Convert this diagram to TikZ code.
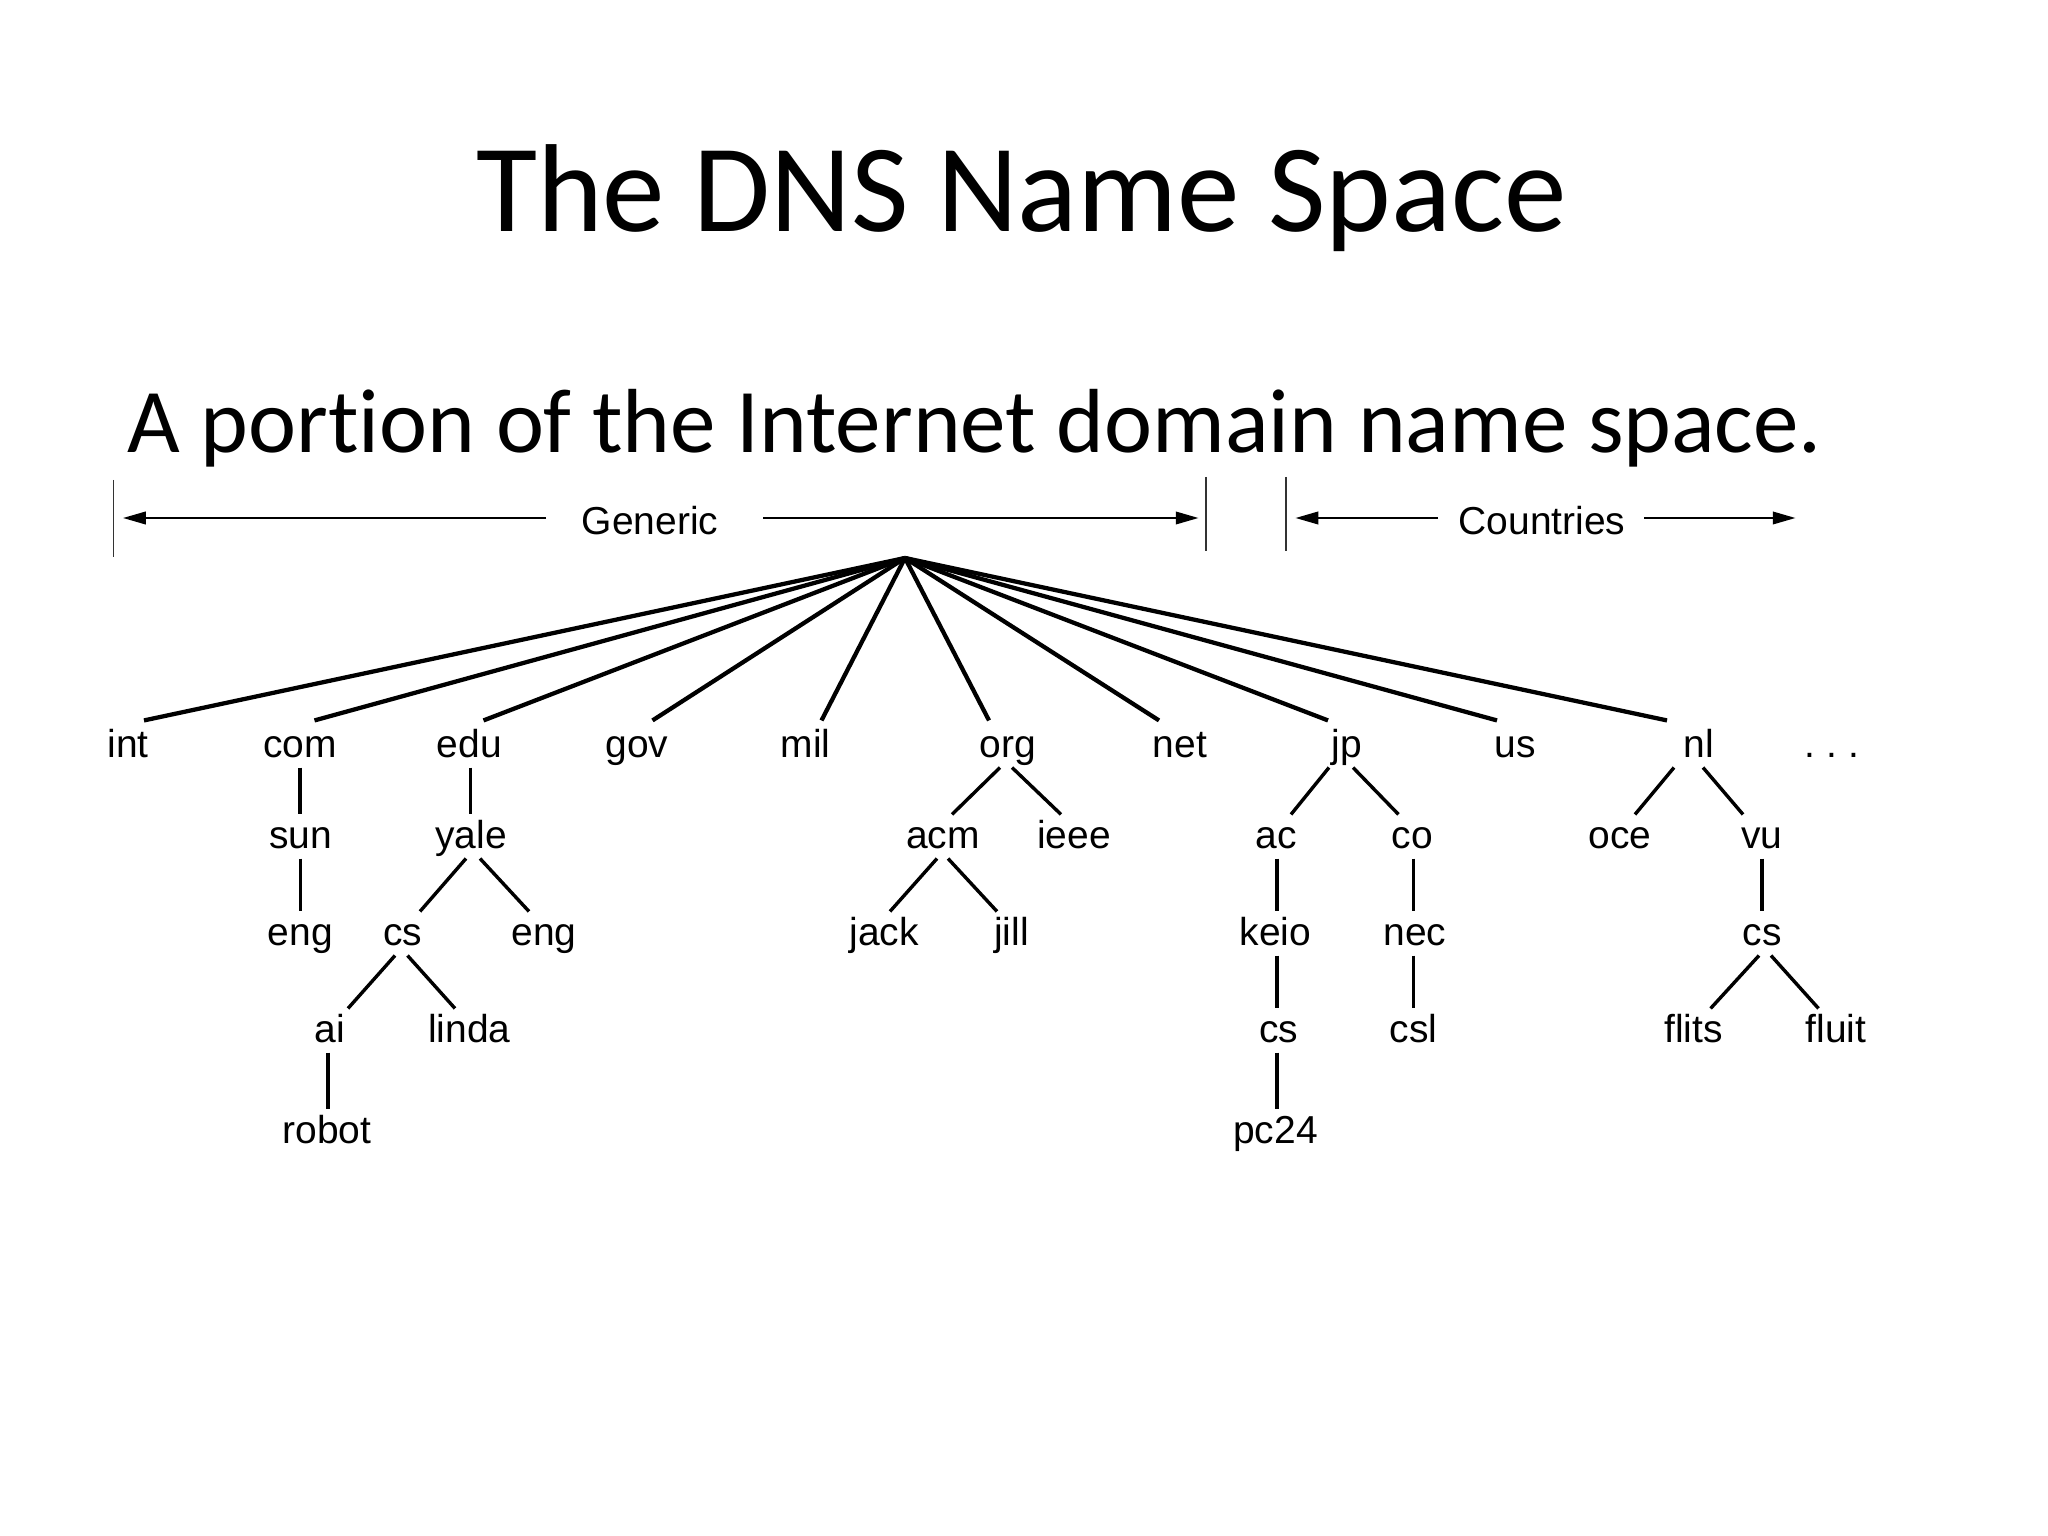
\documentclass[tikz,border=0pt]{standalone}
\usepackage{fontspec}
\setmainfont{Carlito}[Ligatures=NoCommon]
\newfontfamily\lblfamily{Liberation Sans}
\usetikzlibrary{calc,arrows.meta}
\begin{document}
\begin{tikzpicture}[x=0.3515625pt, y=-0.3515625pt,
  lbl/.style={font=\lblfamily\fontsize{13.7pt}{16pt}\selectfont, inner sep=0pt, text height=11.6pt, text depth=3.5pt, anchor=base},
  rootedge/.style={line width=1.5pt},
  edge/.style={line width=1.2pt},
  bar/.style={line width=0.55pt, draw=black!80},
  span/.style={line width=0.75pt, -{Triangle[length=8pt,width=4.4pt]}}]
\path[use as bounding box] (0,0) rectangle (2048,1536);

% titles
\node[anchor=base, inner sep=0pt, font=\fontsize{44pt}{50pt}\selectfont] (title) at (1021.5,232) {The DNS Name Space};
\node[anchor=base west, inner sep=0pt, font=\fontsize{32pt}{38pt}\selectfont] (sub) at (127,453) {A portion of the Internet domain name space.};

% spans
\node[lbl] (generic) at (650,535) {Generic};
\node[lbl] (countries) at (1542,535) {Countries};
\coordinate (gLs) at (546,518);
\coordinate (gLt) at (123,518);
\coordinate (gRs) at (763,518);
\coordinate (gRt) at (1198.5,518);
\coordinate (cLs) at (1438,518);
\coordinate (cLt) at (1295.5,518);
\coordinate (cRs) at (1644,518);
\coordinate (cRt) at (1795.5,518);
\draw[span] (gLs) -- (gLt);
\draw[span] (gRs) -- (gRt);
\draw[span] (cLs) -- (cLt);
\draw[span] (cRs) -- (cRt);
\coordinate (b1t) at (113.6,480);
\coordinate (b1b) at (113.6,557);
\coordinate (b2t) at (1206,477);
\coordinate (b2b) at (1206,551);
\coordinate (b3t) at (1286,477);
\coordinate (b3b) at (1286,551);
\draw[bar] (b1t) -- (b1b);
\draw[bar] (b2t) -- (b2b);
\draw[bar] (b3t) -- (b3b);

% root
\coordinate (root) at (905,558);

% level 1
\node[lbl] (int) at (128,757) {int};
\node[lbl] (com) at (300,757) {com};
\node[lbl] (edu) at (469.5,757) {edu};
\node[lbl] (gov) at (637,757) {gov};
\node[lbl] (mil) at (805.5,757) {mil};
\node[lbl] (org) at (1008,757) {org};
\node[lbl] (net) at (1180,757) {net};
\node[lbl] (jp) at (1347,757) {jp};
\node[lbl] (us) at (1515.5,757) {us};
\node[lbl] (nl) at (1699,757) {nl};
\node[lbl] (dots) at (1832,757) {.\ .\ .};

% level 2
\node[lbl] (sun) at (300.5,848) {sun};
\node[lbl] (yale) at (471,848) {yale};
\node[lbl] (acm) at (943,848) {acm};
\node[lbl] (ieee) at (1074,848) {ieee};
\node[lbl] (ac) at (1276,848) {ac};
\node[lbl] (co) at (1412.5,848) {co};
\node[lbl] (oce) at (1620,848) {oce};
\node[lbl] (vu) at (1762,848) {vu};

% level 3
\node[lbl] (engA) at (300.5,945) {eng};
\node[lbl] (csA) at (402.5,945) {cs};
\node[lbl] (engB) at (544,945) {eng};
\node[lbl] (jack) at (884,945) {jack};
\node[lbl] (jill) at (1011.5,945) {jill};
\node[lbl] (keio) at (1275.5,945) {keio};
\node[lbl] (nec) at (1415,945) {nec};
\node[lbl] (csC) at (1762,945) {cs};

% level 4
\node[lbl] (ai) at (330,1042) {ai};
\node[lbl] (linda) at (469.5,1042) {linda};
\node[lbl] (csB) at (1278.5,1042) {cs};
\node[lbl] (csl) at (1413.6,1042) {csl};
\node[lbl] (flits) at (1693.6,1042) {flits};
\node[lbl] (fluit) at (1836,1042) {fluit};

% level 5
\node[lbl] (robot) at (327,1143) {robot};
\node[lbl] (pc) at (1275.5,1143) {pc24};

% root edges
\draw[rootedge] (root) -- ($(int.north)+(16,-3)$);
\draw[rootedge] (root) -- ($(com.north)+(14.5,-3)$);
\draw[rootedge] (root) -- ($(edu.north)+(14,-3)$);
\draw[rootedge] (root) -- ($(gov.north)+(15.5,-3)$);
\draw[rootedge] (root) -- ($(mil.north)+(16,-3)$);
\draw[rootedge] (root) -- ($(org.north)+(-19,-3)$);
\draw[rootedge] (root) -- ($(net.north)+(-21,-3)$);
\draw[rootedge] (root) -- ($(jp.north)+(-19,-3)$);
\draw[rootedge] (root) -- ($(us.north)+(-18.5,-3)$);
\draw[rootedge] (root) -- ($(nl.north)+(-32,-3)$);

% subtrees
\draw[edge] (com.south) -- (com.south |- sun.north);
\draw[edge] (sun.south) -- (sun.south |- engA.north);
\draw[edge] ($(edu.south)+(1,0)$) -- ($(edu.south |- yale.north)+(1,0)$);
\draw[edge] ($(yale.south)+(-5,0)$) -- ($(csA.north)+(17.5,0)$);
\draw[edge] ($(yale.south)+(9,0)$) -- ($(engB.north)+(-15,0)$);
\draw[edge] ($(csA.south)+(-7.5,0)$) -- ($(ai.north)+(18,0)$);
\draw[edge] ($(csA.south)+(5,0)$) -- ($(linda.north)+(-14.5,0)$);
\draw[edge] ($(ai.south)+(-2,0)$) -- ($(ai.south |- robot.north)+(-2,0)$);

\draw[edge] ($(org.south)+(-8,0)$) -- ($(acm.north)+(9,0)$);
\draw[edge] ($(org.south)+(4,0)$) -- ($(ieee.north)+(-13,0)$);
\draw[edge] ($(acm.south)+(-6,0)$) -- ($(jack.north)+(6,0)$);
\draw[edge] ($(acm.south)+(5,0)$) -- ($(jill.north)+(-14.5,0)$);

\draw[edge] ($(jp.south)+(-18,0)$) -- ($(ac.north)+(15,0)$);
\draw[edge] ($(jp.south)+(6,0)$) -- ($(co.north)+(-14,0)$);
\draw[edge] ($(ac.south)+(1,0)$) -- ($(ac.south |- keio.north)+(1,0)$);
\draw[edge] ($(ac.south |- keio.south)+(1,0)$) -- ($(ac.south |- csB.north)+(1,0)$);
\draw[edge] ($(ac.south |- csB.south)+(1,0)$) -- ($(ac.south |- pc.north)+(1,0)$);
\draw[edge] ($(co.south)+(1,0)$) -- ($(co.south |- nec.north)+(1,0)$);
\draw[edge] ($(co.south |- nec.south)+(1,0)$) -- ($(co.south |- csl.north)+(1,0)$);

\draw[edge] ($(nl.south)+(-25,0)$) -- ($(oce.north)+(15,0)$);
\draw[edge] ($(nl.south)+(4,0)$) -- ($(vu.north)+(-19,0)$);
\draw[edge] (vu.south) -- (vu.south |- csC.north);
\draw[edge] ($(csC.south)+(-3,0)$) -- ($(flits.north)+(17,0)$);
\draw[edge] ($(csC.south)+(9,0)$) -- ($(fluit.north)+(-17.5,0)$);
\end{tikzpicture}
\end{document}
